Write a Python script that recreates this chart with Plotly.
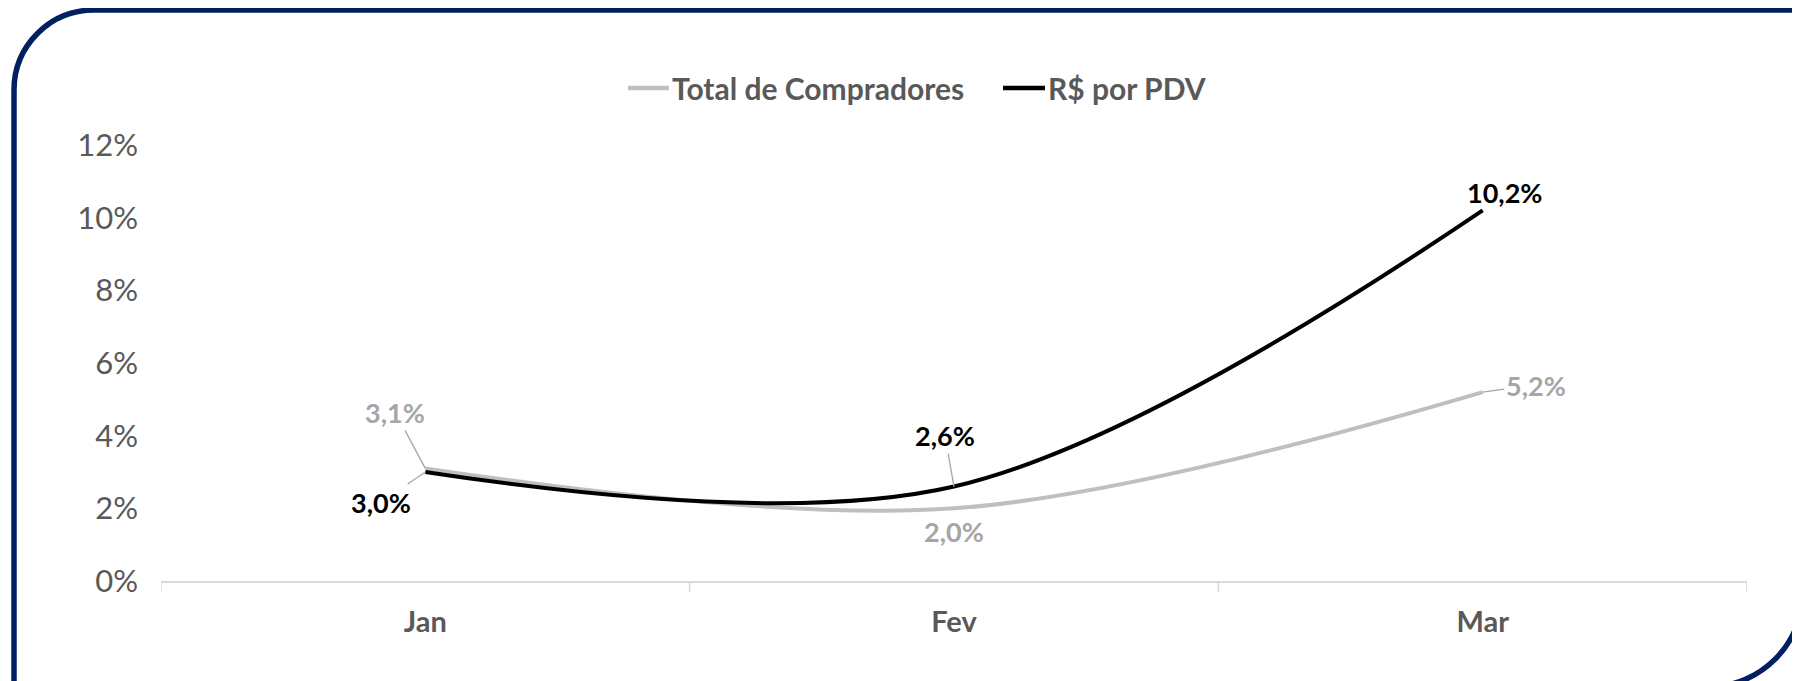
import plotly.graph_objects as go

# ---------------- data ----------------
months = ["Jan", "Fev", "Mar"]
total_compradores = [3.1, 2.0, 5.2]
rs_por_pdv = [3.0, 2.6, 10.2]
y_ticks = [0, 2, 4, 6, 8, 10, 12]
y_tick_labels = [f"{t}%" for t in y_ticks]
series_names = ["Total de Compradores", "R$ por PDV"]

# ---------------- layout geometry (pixels) ----------------
OFF = 8  # page body margin
W, H = 1792, 673
ML, MR, MT, MB = 153, 53, 137, 100
PW, PH = W - ML - MR, H - MT - MB

def px_x(xw):  # window pixel -> paper
    return (xw - OFF - ML) / PW

def px_y(yw):
    return (H - MB - (yw - OFF)) / PH

GRAY_LINE = "#BFBFBF"
GRAY_TEXT = "#A6A6A6"
TXT = "#595959"
NAVY = "#002060"
FONT = "Lato"

def fmt(v):
    return f"{v:.1f}".replace(".", ",") + "%"

xs = list(range(len(months)))
series_vals = [total_compradores, rs_por_pdv]
line_cols = [GRAY_LINE, "#000000"]

fig = go.Figure()
for name, vals, col in zip(series_names, series_vals, line_cols):
    fig.add_trace(go.Scatter(
        x=xs, y=vals, name=name, mode="lines",
        line=dict(color=col, width=4, shape="spline", smoothing=1.0),
        hoverinfo="skip", showlegend=False))

# data labels: (series index, point index, dx, dy, leader)
label_specs = [
    (0, 0, -30, -56, True),
    (1, 0, -44, 30, True),
    (0, 1, 0, 23, False),
    (1, 1, -9, -51, True),
    (0, 2, 53, -7, True),
    (1, 2, 22, -18, False),
]
series_txt_col = [GRAY_TEXT, "#000000"]
anns = []
for si, pi, dx, dy, leader in label_specs:
    v = series_vals[si][pi]
    anns.append(dict(
        x=xs[pi], y=v, xref="x", yref="y", text=f"<b>{fmt(v)}</b>",
        showarrow=True, arrowhead=0, arrowwidth=1.3,
        arrowcolor="#A6A6A6" if leader else "rgba(0,0,0,0)",
        ax=dx, ay=dy, standoff=0, startstandoff=0,
        font=dict(family=FONT, size=27, color=series_txt_col[si])))

# manual legend
legend_items = [(628, 669, 670), (1003, 1045, 1046)]
shapes = []
for (lx0, lx1, tx), name, col in zip(legend_items, series_names, line_cols):
    shapes.append(dict(type="line", xref="paper", yref="paper",
                       x0=px_x(lx0), x1=px_x(lx1), y0=px_y(88), y1=px_y(88),
                       line=dict(color=col, width=4.5)))
    anns.append(dict(x=px_x(tx), y=px_y(88), xref="paper", yref="paper",
                     xanchor="left", yanchor="middle", showarrow=False,
                     text=f"<b>{name}</b>",
                     font=dict(family=FONT, size=30, color=TXT)))

# navy frame: rounded top-left and bottom-right corners
k = 0.5523
xl, xr = px_x(14), px_x(1803)
yt, yb = px_y(10), px_y(687)
rx1, ry1 = 80 / PW, 80 / PH
rx2, ry2 = 95 / PW, 95 / PH
path = (f"M{xl},{yb} L{xl},{yt-ry1} "
        f"C{xl},{yt-ry1*(1-k)} {xl+rx1*(1-k)},{yt} {xl+rx1},{yt} "
        f"L{xr},{yt} L{xr},{yb+ry2} "
        f"C{xr},{yb+ry2*(1-k)} {xr-rx2*(1-k)},{yb} {xr-rx2},{yb} Z")
shapes.append(dict(type="path", path=path, xref="paper", yref="paper",
                   line=dict(color=NAVY, width=5.5), fillcolor="rgba(0,0,0,0)", layer="above"))
# category boundary tick marks
shapes += [dict(type="line", xref="x", yref="paper", x0=b, x1=b, y0=0, y1=-11 / PH,
                line=dict(color="#D9D9D9", width=1.5))
           for b in [i - 0.5 for i in range(len(months) + 1)]]

fig.update_layout(
    width=W, height=H,
    margin=dict(l=ML, r=MR, t=MT, b=MB, autoexpand=False),
    paper_bgcolor="white", plot_bgcolor="white",
    font=dict(family=FONT, color=TXT),
    showlegend=False,
    xaxis=dict(type="linear", range=[-0.5, len(months) - 0.5],
               tickmode="array", tickvals=xs, ticktext=[f"<b>{m}</b>" for m in months],
               showgrid=False, zeroline=False, showline=True, linecolor="#D9D9D9", linewidth=1.5,
               ticks="", tickfont=dict(family=FONT, size=29, color=TXT),
               ticklabelstandoff=14, fixedrange=True),
    yaxis=dict(range=[0, 12], tickmode="array", tickvals=y_ticks, ticktext=y_tick_labels,
               showgrid=False, zeroline=False, showline=False, ticks="",
               tickfont=dict(family=FONT, size=31, color=TXT),
               ticklabelstandoff=22, fixedrange=True),
    annotations=anns,
    shapes=shapes,
)

fig.write_html("out.html")
